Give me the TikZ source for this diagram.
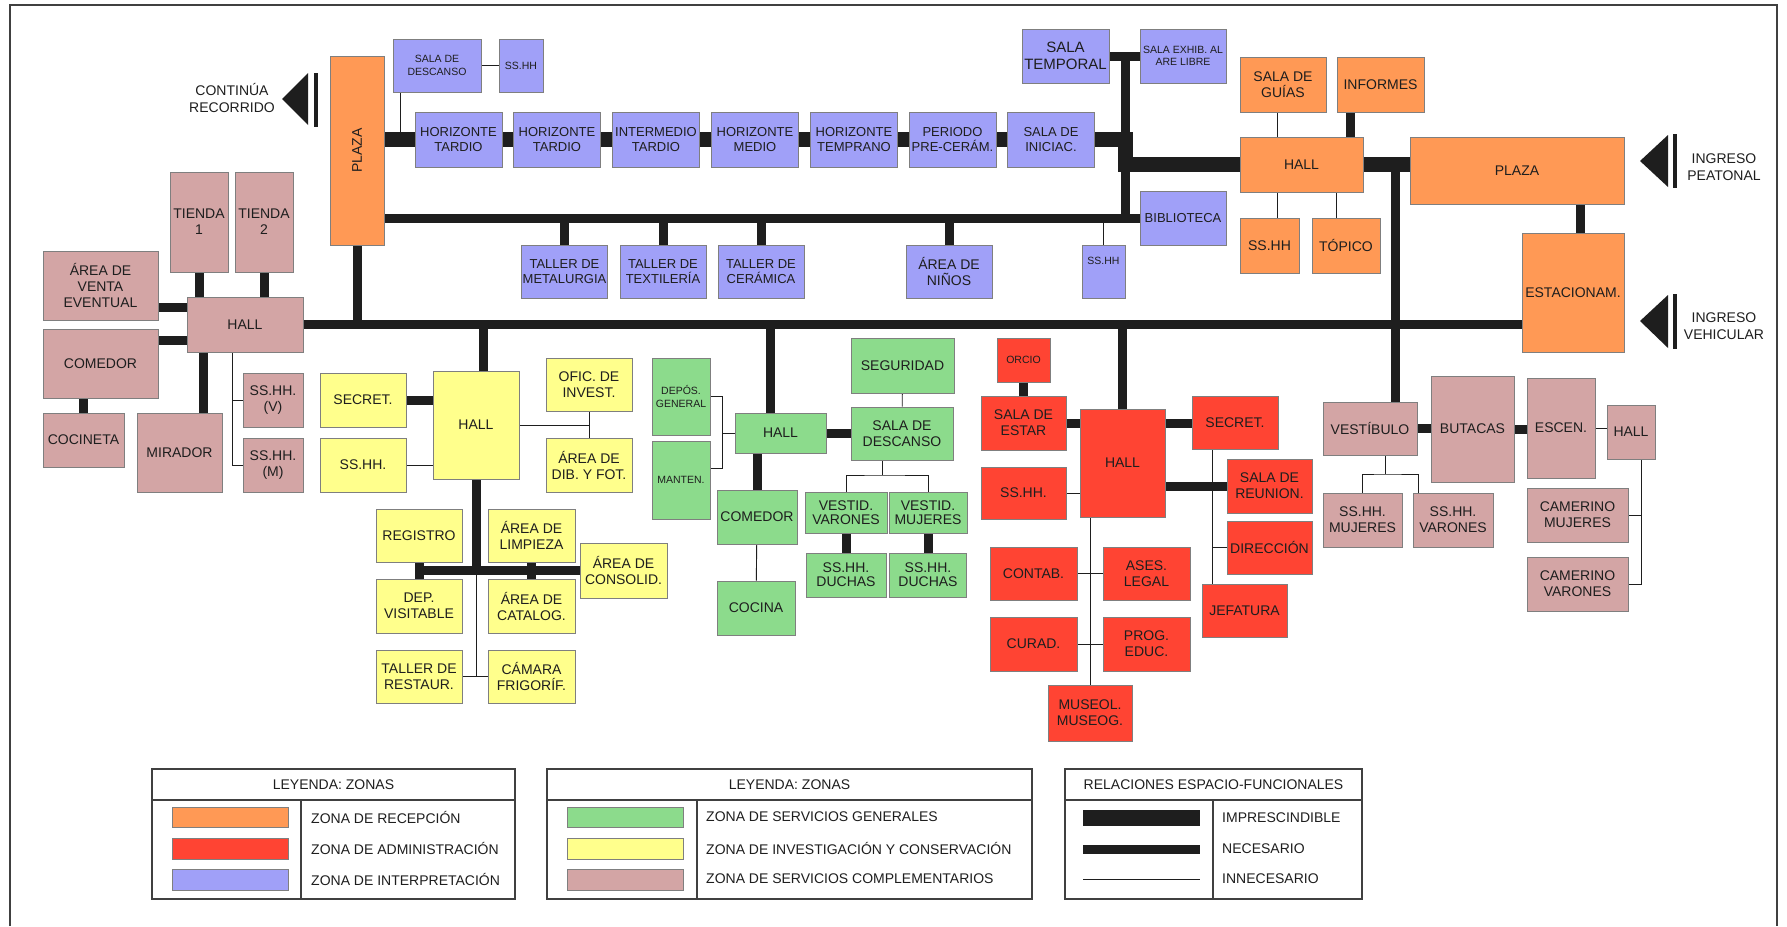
\documentclass[tikz,border=0pt]{standalone}
\usepackage{fontspec}
\setmainfont{Liberation Sans}
\usepackage{graphicx}
\usepackage{tikz}
\usetikzlibrary{positioning, calc}
\usepackage{xcolor}

\definecolor{recep}{HTML}{FF9955}
\definecolor{admin}{HTML}{FF4433}
\definecolor{interp}{HTML}{A0A0F8}
\definecolor{servg}{HTML}{8CDB8C}
\definecolor{invest}{HTML}{FFFF8C}
\definecolor{servc}{HTML}{D3A5A5}
\definecolor{edge}{HTML}{7F7F7F}
\definecolor{ink}{HTML}{1E1E1E}

\pgfdeclarelayer{back}
\pgfsetlayers{back,main}

\begin{document}
\begin{tikzpicture}[
  x=1pt, y=-1pt,
  zone/.style = {draw=edge, line width=0.8pt, inner sep=1pt, align=center, text=ink,
                 font=\fontsize{14}{16}\selectfont},
  rec/.style  = {zone, fill=recep},
  adm/.style  = {zone, fill=admin},
  itp/.style  = {zone, fill=interp, font=\fontsize{13}{15}\selectfont},
  sgen/.style = {zone, fill=servg},
  inv/.style  = {zone, fill=invest},
  scom/.style = {zone, fill=servc},
  sm/.style   = {font=\fontsize{10.5}{12.5}\selectfont},
  sz/.style 2 args = {minimum width=#1pt, minimum height=#2pt},
  imp/.style  = {line width=15pt, draw=ink},
  nec/.style  = {line width=9pt, draw=ink},
  inn/.style  = {line width=0.9pt, draw=ink},
  ent/.style  = {align=center, text=ink, font=\fontsize{14}{17}\selectfont},
  leg/.style  = {text=ink, inner sep=0pt, font=\fontsize{14}{16}\selectfont},
  frame/.style = {line width=1.3pt, draw=ink!85},
]
\useasboundingbox (0,0) rectangle (1787,926);
\begin{pgfonlayer}{back}
\fill[white] (0,0) rectangle (1787,926);
\end{pgfonlayer}
\draw[line width=2.5pt, draw=ink!85] (10,926) -- (10,5) -- (1777,5) -- (1777,926);

% ── Zona de interpretación ───────────────────────────────────────────────────
\node[itp, sm, sz={88}{53}] (sdesc)  at (437,65.5)   {SALA DE\\DESCANSO};
\node[itp, sm, sz={44}{53}] (sshhT)  at (521,65.5)   {SS.HH};
\node[itp, sz={87}{55}]     (ht1)    at (458.5,139.5) {HORIZONTE\\TARDIO};
\node[itp, sz={87}{55}]     (ht2)    at (557,139.5)  {HORIZONTE\\TARDIO};
\node[itp, sz={87}{55}]     (itard)  at (656,139.5)  {INTERMEDIO\\TARDIO};
\node[itp, sz={87}{55}]     (hmed)   at (755,139.5)  {HORIZONTE\\MEDIO};
\node[itp, sz={87}{55}]     (htemp)  at (854,139.5)  {HORIZONTE\\TEMPRANO};
\node[itp, sz={87}{55}]     (ppre)   at (952.5,139.5) {PERIODO\\PRE-CERÁM.};
\node[itp, sz={87}{55}]     (sinic)  at (1051,139.5) {SALA DE\\INICIAC.};
\node[itp, sz={87}{54}, font=\fontsize{15}{17}\selectfont] (stemp) at (1065.5,56) {SALA\\TEMPORAL};
\node[itp, sm, sz={86}{54}] (sexhib) at (1183,56)    {SALA EXHIB. AL\\ARE LIBRE};
\node[itp, sz={86}{54}]     (biblio) at (1183,218)   {BIBLIOTECA};
\node[itp, sz={86}{53}]     (tmet)   at (564.5,271.5) {TALLER DE\\METALURGIA};
\node[itp, sz={86}{53}]     (ttex)   at (663,271.5)  {TALLER DE\\TEXTILERÍA};
\node[itp, sz={86}{53}]     (tcer)   at (761,271.5)  {TALLER DE\\CERÁMICA};
\node[itp, sz={86}{53}, font=\fontsize{14}{16}\selectfont] (ninos) at (949,271.5) {ÁREA DE\\NIÑOS};
\node[itp, sm, sz={43}{53}, text depth=22pt] (sshhB) at (1103.5,271.5) {SS.HH};

% ── Zona de recepción ────────────────────────────────────────────────────────
\node[rec, sz={54}{189}]  (plazaL) at (357,150.5)  {\rotatebox{90}{PLAZA}};
\node[rec, sz={86}{55}]   (sguias) at (1283,84.5)  {SALA DE\\GUÍAS};
\node[rec, sz={87}{55}]   (inform) at (1380.5,84.5) {INFORMES};
\node[rec, sz={123}{55}]  (hallR)  at (1301.5,164.5) {HALL};
\node[rec, sz={59}{55}]   (sshhR)  at (1269.5,245.5) {SS.HH};
\node[rec, sz={68}{55}]   (topico) at (1346,245.5) {TÓPICO};
\node[rec, sz={214}{67}]  (plazaR) at (1517,170.5) {PLAZA};
\node[rec, sz={102}{119}] (estac)  at (1573,292.5) {ESTACIONAM.};

% ── Zona de servicios complementarios ────────────────────────────────────────
\node[scom, sz={58}{100}] (tienda1)  at (199,222)    {TIENDA\\1};
\node[scom, sz={58}{100}] (tienda2)  at (264,222)    {TIENDA\\2};
\node[scom, sz={115}{69}] (venta)    at (100.5,285.5) {ÁREA DE\\VENTA\\EVENTUAL};
\node[scom, sz={116}{55}] (hallL)    at (245,324.5)  {HALL};
\node[scom, sz={115}{69}] (comedP)   at (100.5,363.5) {COMEDOR};
\node[scom, sz={81}{54}]  (cocineta) at (83.5,440)   {COCINETA};
\node[scom, sz={85}{79}]  (mirador)  at (179.5,452.5) {MIRADOR};
\node[scom, sz={60}{54}]  (sshhV)    at (273,400)    {SS.HH.\\(V)};
\node[scom, sz={60}{54}]  (sshhM)    at (273,465)    {SS.HH.\\(M)};
\node[scom, sz={94}{53}]  (vestib)   at (1370,428.5) {VESTÍBULO};
\node[scom, sz={83}{106}] (butacas)  at (1472.5,429) {BUTACAS};
\node[scom, sz={68}{100}] (escen)    at (1561,428)   {ESCEN.};
\node[scom, sz={48}{54}]  (hallE)    at (1631,432)   {HALL};
\node[scom, sz={79}{54}]  (sshhMu)   at (1362.5,520) {SS.HH.\\MUJERES};
\node[scom, sz={80}{54}]  (sshhVa)   at (1453,520)   {SS.HH.\\VARONES};
\node[scom, sz={101}{54}] (camM)     at (1577.5,515) {CAMERINO\\MUJERES};
\node[scom, sz={101}{54}] (camV)     at (1577.5,584) {CAMERINO\\VARONES};

% ── Zona de investigación y conservación ─────────────────────────────────────
\node[inv, sz={86}{54}]  (secY)    at (363,400)    {SECRET.};
\node[inv, sz={86}{54}]  (sshhY)   at (363,465)    {SS.HH.};
\node[inv, sz={86}{108}] (hallY)   at (476,425)    {HALL};
\node[inv, sz={86}{53}]  (ofic)    at (589,384.5)  {OFIC. DE\\INVEST.};
\node[inv, sz={86}{54}]  (dib)     at (589,465)    {ÁREA DE\\DIB. Y FOT.};
\node[inv, sz={86}{53}]  (regis)   at (419,535.5)  {REGISTRO};
\node[inv, sz={87}{53}]  (limp)    at (531.5,535.5) {ÁREA DE\\LIMPIEZA};
\node[inv, sz={86}{54}]  (depvis)  at (419,606)    {DEP.\\VISITABLE};
\node[inv, sz={87}{54}]  (catal)   at (531.5,606)  {ÁREA DE\\CATALOG.};
\node[inv, sz={87}{55}]  (consol)  at (623.5,570.5) {ÁREA DE\\CONSOLID.};
\node[inv, sz={86}{53}]  (restaur) at (419,676.5)  {TALLER DE\\RESTAUR.};
\node[inv, sz={87}{53}]  (camara)  at (531.5,676.5) {CÁMARA\\FRIGORÍF.};

% ── Zona de servicios generales ──────────────────────────────────────────────
\node[sgen, sm, sz={58}{77}] (depos)  at (681,396.5) {DEPÓS.\\GENERAL};
\node[sgen, sm, sz={58}{78}] (manten) at (681,480)   {MANTEN.};
\node[sgen, sz={91}{40}]     (hallG)  at (780.5,433) {HALL};
\node[sgen, sz={103}{55}]    (segur)  at (902.5,365.5) {SEGURIDAD};
\node[sgen, sz={102}{53}]    (sdescG) at (902,433.5) {SALA DE\\DESCANSO};
\node[sgen, sz={80}{54}]     (comedG) at (757,517)   {COMEDOR};
\node[sgen, sz={78}{54}]     (cocina) at (756,608)   {COCINA};
\node[sgen, sz={82}{41}, font=\fontsize{14}{14}\selectfont] (vvar) at (846,512.5)  {VESTID.\\VARONES};
\node[sgen, sz={78}{41}, font=\fontsize{14}{14}\selectfont] (vmuj) at (928,512.5)  {VESTID.\\MUJERES};
\node[sgen, sz={80}{44}, font=\fontsize{14}{14}\selectfont] (dvar) at (846,575)    {SS.HH.\\DUCHAS};
\node[sgen, sz={77}{44}, font=\fontsize{14}{14}\selectfont] (dmuj) at (928,575)    {SS.HH.\\DUCHAS};

% ── Zona de administración ───────────────────────────────────────────────────
\node[adm, sm, sz={53}{44}] (orcio)  at (1023.5,360) {ORCIO};
\node[adm, sz={85}{54}]     (estar)  at (1023.5,423) {SALA DE\\ESTAR};
\node[adm, sz={85}{108}]    (hallA)  at (1122.5,463) {HALL};
\node[adm, sz={85}{52}]     (sshhA)  at (1023.5,493) {SS.HH.};
\node[adm, sz={86}{53}]     (secA)   at (1235,423)   {SECRET.};
\node[adm, sz={85}{54}]     (reun)   at (1269.5,486) {SALA DE\\REUNION.};
\node[adm, sz={85}{53}]     (direc)  at (1269.5,547.5) {DIRECCIÓN};
\node[adm, sz={85}{53}]     (jefat)  at (1244.5,610.5) {JEFATURA};
\node[adm, sz={87}{53}]     (contab) at (1033.5,573.5) {CONTAB.};
\node[adm, sz={87}{53}]     (ases)   at (1146.5,573.5) {ASES.\\LEGAL};
\node[adm, sz={87}{54}]     (curad)  at (1033.5,644) {CURAD.};
\node[adm, sz={87}{54}]     (prog)   at (1146.5,644) {PROG.\\EDUC.};
\node[adm, sz={84}{56}]     (museo)  at (1090,713)   {MUSEOL.\\MUSEOG.};

% ── Accesos ──────────────────────────────────────────────────────────────────
\node[ent] (contin) at (232,98)   {CONTINÚA\\RECORRIDO};
\node[ent] (ipeat)  at (1724,167) {INGRESO\\PEATONAL};
\node[ent] (ivehi)  at (1724,326) {INGRESO\\VEHICULAR};
\coordinate (tipC) at (282,99);
\coordinate (tipP) at (1640,161);
\coordinate (tipV) at (1640,321);
\fill[ink] (tipC) -- ++(26,-26) -- ++(0,52) -- cycle;
\fill[ink] ([xshift=32pt,yshift=26pt]tipC) rectangle ++(4,54);
\fill[ink] (tipP) -- ++(28,-26) -- ++(0,52) -- cycle;
\fill[ink] ([xshift=33pt,yshift=27pt]tipP) rectangle ++(4,54);
\fill[ink] (tipV) -- ++(28,-26) -- ++(0,53) -- cycle;
\fill[ink] ([xshift=33pt,yshift=27pt]tipV) rectangle ++(4,55);

% ── Relaciones ───────────────────────────────────────────────────────────────
\begin{pgfonlayer}{back}
\draw[imp] (plazaL.east |- ht1) -- (ht1) -- (ht2) -- (itard) -- (hmed) -- (htemp) -- (ppre) -- (sinic);
\coordinate (jT) at (1125,139.5);
\coordinate (jH) at (1125,164.5);
\coordinate (jS) at (1125,56);
\draw[imp] (sinic) -- (jT) -- (jH) -- (hallR);
\draw[imp] (hallR) -- (hallR -| plazaR);
\draw[nec] (stemp) -- (sexhib);
\draw[nec] (jS) -- (jS |- biblio);
\draw[nec] (plazaL |- biblio) -- (biblio);
\coordinate (sdJ) at ([xshift=8pt]sdesc.south west);
\draw[inn] (sdJ) -- (sdJ |- ht1);
\draw[inn] (sdesc) -- (sshhT);
\draw[nec] (tmet)  -- (tmet |- biblio);
\draw[nec] (ttex)  -- (ttex |- biblio);
\draw[nec] (tcer)  -- (tcer |- biblio);
\draw[nec] (ninos) -- (ninos |- biblio);
\draw[inn] (sshhB) -- (sshhB |- biblio);

% recepción
\coordinate (sgJ) at ([xshift=-6pt]sguias.south);
\draw[inn] (sgJ) -- (sgJ |- hallR);
\coordinate (infJ) at ([xshift=-13pt]hallR.north east);
\draw[nec] (infJ) -- (infJ |- inform);
\coordinate (srJ) at ([xshift=8pt]sshhR.north);
\draw[inn] (srJ) -- (srJ |- hallR);
\coordinate (tpJ) at ([xshift=-10pt]topico.north);
\draw[inn] (tpJ) -- (tpJ |- hallR);
\coordinate (esJ) at ([xshift=7pt]estac.north);
\draw[nec] (esJ) -- (esJ |- plazaR);
\coordinate (jR) at (1395.5,164.5);
\draw[nec] (jR) -- (jR |- vestib.north);

% eje principal
\draw[nec] (hallL) -- (hallL -| estac);
\draw[nec] (plazaL) -- (plazaL |- hallL);
\coordinate (hyT) at ([xshift=7pt]hallY.north);
\draw[nec] (hyT) -- (hyT |- hallL);
\coordinate (hgT) at ([xshift=-10pt]hallG.north);
\draw[nec] (hgT) -- (hgT |- hallL);
\draw[nec] (hallA) -- (hallA |- hallL);

% servicios complementarios
\draw[nec] (tienda1) -- (tienda1 |- hallL);
\draw[nec] (tienda2) -- (tienda2 |- hallL);
\coordinate (vJ) at ([yshift=-11pt]hallL.north west);
\draw[nec] (vJ) -- (vJ -| venta);
\coordinate (cJ) at ([yshift=-44pt]hallL.north west);
\draw[nec] (cJ) -- (cJ -| comedP);
\draw[nec] (cocineta) -- (cocineta |- comedP);
\coordinate (mJ) at ([xshift=-19pt]mirador.north east);
\draw[nec] (mJ) -- (mJ |- hallL);
\coordinate (lJ) at ([xshift=46pt]hallL.south west);
\draw[inn] (lJ) |- (sshhV);
\draw[inn] (lJ) |- (sshhM);

% investigación y conservación
\draw[nec] (secY) -- (secY -| hallY);
\draw[inn] (sshhY) -- (sshhY -| hallY);
\draw[inn] (hallY) -- (hallY -| ofic);
\draw[inn] (ofic) -- (dib);
\draw[nec] (hallY) -- (hallY |- consol);
\draw[nec] (regis |- consol) -- (consol);
\draw[nec] (regis) -- (depvis);
\draw[nec] (limp) -- (catal);
\draw[inn] (hallY |- consol) -- (hallY |- restaur);
\draw[inn] (restaur) -- (camara);

% servicios generales
\coordinate (jG) at (722,433);
\draw[inn] (depos) -| (jG);
\coordinate (mtJ) at ([yshift=12pt]manten.east);
\draw[inn] (mtJ) -| (jG);
\draw[inn] (jG) -- (hallG);
\draw[nec] (hallG) -- (hallG -| sdescG);
\draw[inn] (segur) -- (sdescG);
\draw[nec] (comedG) -- (comedG |- hallG);
\draw[inn] (comedG) -- (cocina);
\coordinate (jD) at (882,475);
\draw[inn] (jD |- sdescG.south) -- (jD);
\draw[inn] (vvar) |- (jD) -| (vmuj);
\draw[nec] (vvar) -- (dvar);
\draw[nec] (vmuj) -- (dmuj);

% administración
\draw[nec] (orcio) -- (estar);
\draw[nec] (estar) -- (estar -| hallA);
\draw[inn] (sshhA) -- (sshhA -| hallA);
\draw[nec] (secA) -- (secA -| hallA);
\draw[nec] (reun) -- (reun -| hallA);
\coordinate (jA) at ([xshift=21pt]secA.south west);
\draw[inn] (jA) -- (jA |- jefat.north);
\draw[inn] (direc) -- (direc -| jA);
\draw[inn] (museo |- hallA.south) -- (museo);
\draw[inn] (contab) -- (ases);
\draw[inn] (curad) -- (prog);

% auditorio
\draw[nec] (vestib) -- (vestib -| butacas);
\draw[nec] (butacas) -- (butacas -| escen);
\draw[inn] (escen) -- (escen -| hallE);
\coordinate (jV2) at (1385,474);
\draw[inn] (jV2 |- vestib.south) -- (jV2);
\coordinate (svJ) at ([xshift=6pt]sshhVa.north west);
\draw[inn] (sshhMu) |- (jV2) -| (svJ);
\coordinate (jE) at ([xshift=10pt]hallE.south);
\draw[inn] (jE) |- (camV);
\draw[inn] (camM) -- (camM -| jE);
\end{pgfonlayer}

% ── Leyenda: zonas (1) ───────────────────────────────────────────────────────
\draw[frame] (152,769) rectangle (515,899);
\draw[frame] (152,800) -- (515,800);
\draw[frame] (301,800) -- (301,899);
\node[leg] (ley1) at (333.5,784.5) {LEYENDA: ZONAS};
\draw[edge, fill=recep]  (172,807) rectangle (288,827);
\draw[edge, fill=admin]  (172,838) rectangle (288,859);
\draw[edge, fill=interp] (172,869) rectangle (288,890);
\node[leg, anchor=west] (lrec) at (311,817) {ZONA DE RECEPCIÓN};
\node[leg, anchor=west] (ladm) at (311,848) {ZONA DE ADMINISTRACIÓN};
\node[leg, anchor=west] (litp) at (311,879) {ZONA DE INTERPRETACIÓN};

% ── Leyenda: zonas (2) ───────────────────────────────────────────────────────
\draw[frame] (547,769) rectangle (1032,899);
\draw[frame] (547,800) -- (1032,800);
\draw[frame] (697,800) -- (697,899);
\node[leg] (ley2) at (789.5,784.5) {LEYENDA: ZONAS};
\draw[edge, fill=servg]  (567,807) rectangle (683,827);
\draw[edge, fill=invest] (567,838) rectangle (683,859);
\draw[edge, fill=servc]  (567,869) rectangle (683,890);
\node[leg, anchor=west] (lsg) at (706,817) {ZONA DE SERVICIOS GENERALES};
\node[leg, anchor=west] (lic) at (706,848) {ZONA DE INVESTIGACIÓN Y CONSERVACIÓN};
\node[leg, anchor=west] (lsc) at (706,879) {ZONA DE SERVICIOS COMPLEMENTARIOS};

% ── Relaciones espacio-funcionales ───────────────────────────────────────────
\draw[frame] (1065,769) rectangle (1362,899);
\draw[frame] (1065,800) -- (1362,800);
\draw[frame] (1213,800) -- (1213,899);
\node[leg] (ley3) at (1213.5,784.5) {RELACIONES ESPACIO-FUNCIONALES};
\fill[ink] (1083,810) rectangle (1200,826);
\fill[ink] (1083,844.5) rectangle (1200,853.5);
\draw[inn] (1083,879) -- (1200,879);
\node[leg, anchor=west] (limp3) at (1222,818) {IMPRESCINDIBLE};
\node[leg, anchor=west] (lnec3) at (1222,849) {NECESARIO};
\node[leg, anchor=west] (linn3) at (1222,879) {INNECESARIO};

\end{tikzpicture}
\end{document}
